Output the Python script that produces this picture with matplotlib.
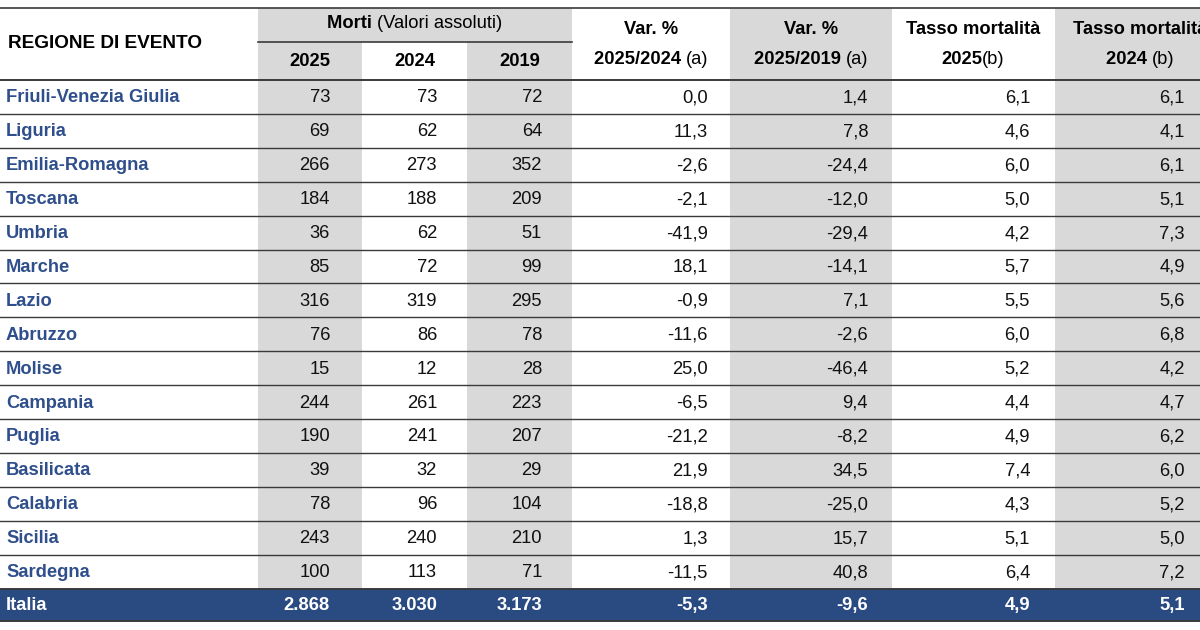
import matplotlib
matplotlib.use("Agg")
import matplotlib.pyplot as plt

FAM = ["Liberation Sans Narrow", "Liberation Sans", "DejaVu Sans"]
plt.rcParams["font.family"] = FAM

C_BLUE = "#2f4f8c"
C_DARK = "#2a4a82"
C_GRAY = "#d9d9d9"
C_LINE = "#3a3a3a"
FS = 13.2

regions = ["Friuli-Venezia Giulia", "Liguria", "Emilia-Romagna", "Toscana", "Umbria",
           "Marche", "Lazio", "Abruzzo", "Molise", "Campania", "Puglia", "Basilicata",
           "Calabria", "Sicilia", "Sardegna"]
morti_2025 = [73, 69, 266, 184, 36, 85, 316, 76, 15, 244, 190, 39, 78, 243, 100]
morti_2024 = [73, 62, 273, 188, 62, 72, 319, 86, 12, 261, 241, 32, 96, 240, 113]
morti_2019 = [72, 64, 352, 209, 51, 99, 295, 78, 28, 223, 207, 29, 104, 210, 71]
var_2024 = [0.0, 11.3, -2.6, -2.1, -41.9, 18.1, -0.9, -11.6, 25.0, -6.5, -21.2, 21.9, -18.8, 1.3, -11.5]
var_2019 = [1.4, 7.8, -24.4, -12.0, -29.4, -14.1, 7.1, -2.6, -46.4, 9.4, -8.2, 34.5, -25.0, 15.7, 40.8]
tasso_2025 = [6.1, 4.6, 6.0, 5.0, 4.2, 5.7, 5.5, 6.0, 5.2, 4.4, 4.9, 7.4, 4.3, 5.1, 6.4]
tasso_2024 = [6.1, 4.1, 6.1, 5.1, 7.3, 4.9, 5.6, 6.8, 4.2, 4.7, 6.2, 6.0, 5.2, 5.0, 7.2]
italia = ["2.868", "3.030", "3.173", "-5,3", "-9,6", "4,9", "5,1"]

# bordi colonne (pixel) e posizione destra dei numeri
edges = [0, 258, 362, 467, 572, 730, 892, 1055, 1200]
right_x = [330, 437, 542, 708, 868, 1030, 1185]
top, head_mid, head_bot, row_h = 8, 42, 80, 33.9
n = len(regions)
ital_top = head_bot + n * row_h

fig = plt.figure(figsize=(12, 6.3), dpi=100)
ax = fig.add_axes([0, 0, 1, 1])
ax.set_xlim(0, 1200)
ax.set_ylim(630, 0)
ax.axis("off")


def band(x0, x1, y0, y1, color=C_GRAY):
    ax.add_patch(plt.Rectangle((x0, y0), x1 - x0, y1 - y0, color=color, lw=0, zorder=0))


band(edges[1], edges[2], top, ital_top)
band(edges[2], edges[3], top, head_mid)
band(edges[3], edges[4], top, ital_top)
band(edges[5], edges[6], top, ital_top)
band(edges[7], edges[8], top, ital_top)
band(0, 1200, ital_top, ital_top + 32, C_DARK)

ax.plot([0, 1200], [top, top], color=C_LINE, lw=1.2)
ax.plot([edges[1], edges[4]], [head_mid, head_mid], color=C_LINE, lw=1.2)
for i in range(n + 1):
    ax.plot([0, 1200], [head_bot + i * row_h] * 2, color=C_LINE, lw=1.0 if 0 < i < n else 1.4)
ax.plot([0, 1200], [ital_top + 32] * 2, color=C_LINE, lw=1.4)

fig.canvas.draw()
rend = fig.canvas.get_renderer()


def mixed(xc, y, parts, size=FS):
    # pezzi di testo grassetto/normale affiancati, centrati su xc
    arts = [ax.text(0, y, t, fontsize=size, fontweight="bold" if b else "normal",
                    ha="left", va="center", color="black") for t, b in parts]
    widths = [a.get_window_extent(rend).width for a in arts]
    x = xc - sum(widths) / 2
    for a, w in zip(arts, widths):
        a.set_x(x)
        x += w


ax.text(8, 44, "REGIONE DI EVENTO", fontsize=FS + 0.5, fontweight="bold", va="center")
mixed((edges[1] + edges[4]) / 2, 24, [("Morti ", True), ("(Valori assoluti)", False)])
for c, yr in zip((1, 2, 3), ("2025", "2024", "2019")):
    ax.text((edges[c] + edges[c + 1]) / 2, 61, yr, fontsize=FS, fontweight="bold", ha="center", va="center")
mixed(651, 30, [("Var. %", True)])
mixed(651, 59, [("2025/2024 ", True), ("(a)", False)])
mixed(811, 30, [("Var. %", True)])
mixed(811, 59, [("2025/2019 ", True), ("(a)", False)])
mixed(973, 30, [("Tasso mortalità", True)])
mixed(973, 59, [("2025", True), ("(b)", False)])
mixed(1140, 30, [("Tasso mortalità", True)])
mixed(1140, 59, [("2024 ", True), ("(b)", False)])


def fmt(v):
    return f"{v:.1f}".replace(".", ",")


cols = [morti_2025, morti_2024, morti_2019, var_2024, var_2019, tasso_2025, tasso_2024]
for i, name in enumerate(regions):
    y = head_bot + (i + 0.5) * row_h + 1
    ax.text(6, y, name, fontsize=FS, fontweight="bold", color=C_BLUE, va="center")
    for j, col in enumerate(cols):
        v = col[i]
        s = str(v) if j < 3 else fmt(v)
        ax.text(right_x[j], y, s, fontsize=FS, ha="right", va="center", color="#111111")

y = ital_top + 17
ax.text(6, y, "Italia", fontsize=FS, fontweight="bold", color="white", va="center")
for j, s in enumerate(italia):
    ax.text(right_x[j], y, s, fontsize=FS, fontweight="bold", ha="right", va="center", color="white")

fig.savefig("out.png", dpi=100, facecolor="white")
